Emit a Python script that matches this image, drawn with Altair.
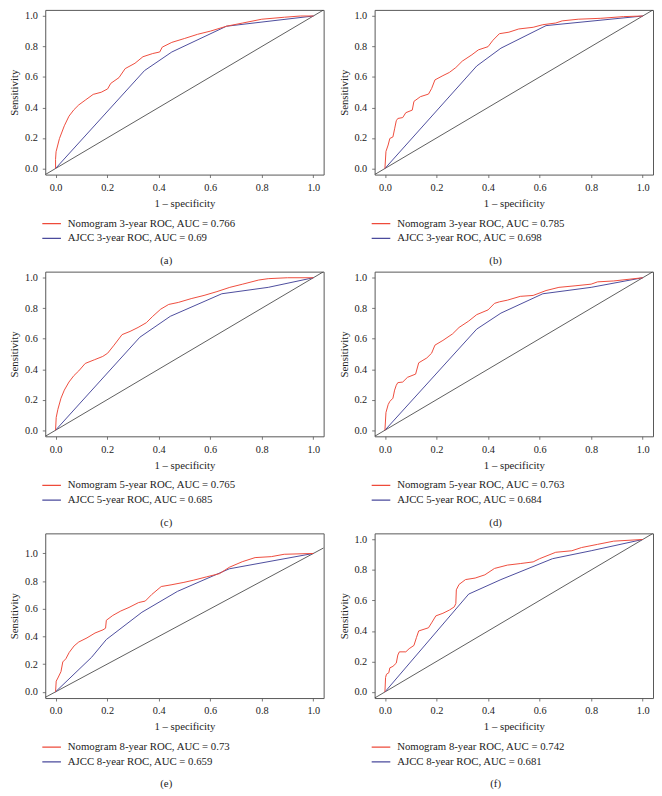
import altair as alt
import pandas as pd

# ---------------- data ----------------
tick_values = [0.0, 0.2, 0.4, 0.6, 0.8, 1.0]
diag_vals = [-0.04, 1.04]

nom_a_x = [0, 0.0, 0.002, 0.015, 0.034, 0.052, 0.071, 0.09, 0.115, 0.146, 0.177, 0.202, 0.214, 0.246, 0.27,
           0.308, 0.339, 0.377, 0.404, 0.414, 0.451, 0.501, 0.551, 0.601, 0.663, 0.726, 0.80, 0.888, 0.95, 1.0]
nom_a_y = [0, 0.06, 0.11, 0.196, 0.28, 0.343, 0.385, 0.417, 0.448, 0.486, 0.50, 0.522, 0.558, 0.596, 0.655,
           0.69, 0.733, 0.754, 0.764, 0.796, 0.827, 0.853, 0.88, 0.901, 0.933, 0.954, 0.979, 0.992, 1.0, 1.0]
ajcc_a_x = [0, 0.345, 0.451, 0.663, 1.0]
ajcc_a_y = [0, 0.642, 0.764, 0.933, 1.0]

nom_b_x = [0, 0.004, 0.0125, 0.019, 0.031, 0.0375, 0.044, 0.05, 0.069, 0.081, 0.106, 0.1125, 0.1375, 0.169,
           0.181, 0.194, 0.225, 0.25, 0.275, 0.30, 0.3375, 0.3625, 0.40, 0.419, 0.444, 0.481, 0.519, 0.575,
           0.6125, 0.6625, 0.6875, 0.75, 0.8375, 0.925, 1.0]
nom_b_y = [0, 0.112, 0.154, 0.197, 0.207, 0.26, 0.313, 0.328, 0.334, 0.366, 0.383, 0.44, 0.471, 0.488,
           0.524, 0.581, 0.609, 0.63, 0.662, 0.704, 0.746, 0.778, 0.799, 0.841, 0.884, 0.894, 0.915, 0.926,
           0.943, 0.954, 0.968, 0.979, 0.985, 0.996, 1.0]
ajcc_b_x = [0, 0.356, 0.45, 0.625, 1.0]
ajcc_b_y = [0, 0.672, 0.789, 0.937, 1.0]

nom_c_x = [0, 0.0025, 0.009, 0.021, 0.034, 0.052, 0.071, 0.09, 0.115, 0.152, 0.183, 0.202, 0.227, 0.258,
           0.289, 0.32, 0.352, 0.377, 0.408, 0.439, 0.476, 0.526, 0.576, 0.626, 0.676, 0.726, 0.788, 0.825,
           0.90, 1.0]
nom_c_y = [0, 0.084, 0.137, 0.21, 0.263, 0.316, 0.358, 0.389, 0.438, 0.463, 0.484, 0.505, 0.558, 0.627,
           0.648, 0.674, 0.705, 0.747, 0.794, 0.825, 0.838, 0.863, 0.884, 0.909, 0.937, 0.958, 0.985, 0.994,
           1.0, 1.0]
ajcc_c_x = [0, 0.327, 0.445, 0.645, 0.825, 1.0]
ajcc_c_y = [0, 0.61, 0.747, 0.895, 0.937, 1.0]

nom_d_x = [0, 0.004, 0.0125, 0.019, 0.031, 0.0375, 0.044, 0.05, 0.069, 0.0875, 0.119, 0.131, 0.1625, 0.181,
           0.194, 0.225, 0.2625, 0.2875, 0.325, 0.356, 0.40, 0.425, 0.444, 0.475, 0.525, 0.575, 0.625, 0.675,
           0.7375, 0.80, 0.825, 0.8875, 1.0]
nom_d_y = [0, 0.116, 0.168, 0.189, 0.21, 0.263, 0.295, 0.312, 0.316, 0.347, 0.368, 0.442, 0.474, 0.505,
           0.558, 0.589, 0.632, 0.674, 0.716, 0.758, 0.789, 0.832, 0.842, 0.853, 0.878, 0.884, 0.916, 0.937,
           0.947, 0.958, 0.973, 0.979, 1.0]
ajcc_d_x = [0, 0.356, 0.45, 0.6125, 0.80, 1.0]
ajcc_d_y = [0, 0.663, 0.768, 0.895, 0.937, 1.0]

nom_e_x = [0, 0.0025, 0.009, 0.021, 0.028, 0.04, 0.053, 0.072, 0.09, 0.122, 0.153, 0.184, 0.194, 0.197,
           0.222, 0.253, 0.285, 0.322, 0.348, 0.373, 0.41, 0.448, 0.498, 0.536, 0.586, 0.636, 0.674, 0.724,
           0.774, 0.837, 0.887, 1.0]
nom_e_y = [0, 0.077, 0.10, 0.146, 0.216, 0.239, 0.285, 0.332, 0.36, 0.39, 0.425, 0.448, 0.46, 0.517,
           0.552, 0.584, 0.61, 0.645, 0.656, 0.703, 0.761, 0.773, 0.791, 0.807, 0.831, 0.854, 0.9, 0.94,
           0.97, 0.977, 0.994, 1.0]
ajcc_e_x = [0, 0.14, 0.197, 0.335, 0.473, 0.674, 1.0]
ajcc_e_y = [0, 0.25, 0.378, 0.575, 0.726, 0.889, 1.0]

nom_f_x = [0, 0.0025, 0.006, 0.015, 0.019, 0.031, 0.044, 0.05, 0.056, 0.081, 0.094, 0.1125, 0.1225, 0.131,
           0.169, 0.181, 0.1975, 0.225, 0.25, 0.269, 0.275, 0.277, 0.2875, 0.3125, 0.35, 0.3875, 0.425, 0.475,
           0.525, 0.575, 0.6, 0.6625, 0.725, 0.7625, 0.825, 0.8875, 1.0]
nom_f_y = [0, 0.095, 0.116, 0.126, 0.158, 0.168, 0.189, 0.242, 0.263, 0.263, 0.284, 0.305, 0.358, 0.40,
           0.421, 0.453, 0.499, 0.516, 0.537, 0.558, 0.58, 0.67, 0.705, 0.737, 0.747, 0.768, 0.81, 0.832,
           0.842, 0.853, 0.874, 0.916, 0.926, 0.947, 0.968, 0.989, 1.0]
ajcc_f_x = [0, 0.325, 0.45, 0.65, 0.80, 1.0]
ajcc_f_y = [0, 0.642, 0.737, 0.874, 0.926, 1.0]

nom_labels = ["Nomogram 3-year ROC, AUC = 0.766", "Nomogram 3-year ROC, AUC = 0.785",
              "Nomogram 5-year ROC, AUC = 0.765", "Nomogram 5-year ROC, AUC = 0.763",
              "Nomogram 8-year ROC, AUC = 0.73", "Nomogram 8-year ROC, AUC = 0.742"]
ajcc_labels = ["AJCC 3-year ROC, AUC = 0.69", "AJCC 3-year ROC, AUC = 0.698",
               "AJCC 5-year ROC, AUC = 0.685", "AJCC 5-year ROC, AUC = 0.684",
               "AJCC 8-year ROC, AUC = 0.659", "AJCC 8-year ROC, AUC = 0.681"]
captions = ["(a)", "(b)", "(c)", "(d)", "(e)", "(f)"]
y_domains = [[-0.04, 1.04]] * 4 + [[-0.045, 1.145], [-0.04, 1.04]]
x_domain = [-0.04, 1.04]

# ---------------- styling ----------------
RED = "#ee4a3a"
BLUE = "#4a4a9c"
SERIF = "Liberation Serif"
TEXT = "#222222"
W, H = 284, 168


def panel(nx, ny, ax, ay, nlab, alab, cap, ydom):
    df_n = pd.DataFrame({"x": nx, "y": ny, "series": nlab, "i": list(range(len(nx)))})
    df_a = pd.DataFrame({"x": ax, "y": ay, "series": alab, "i": list(range(len(ax)))})
    df_d = pd.DataFrame({"x": diag_vals, "y": diag_vals})

    xenc = alt.X("x:Q", scale=alt.Scale(domain=x_domain, nice=False, zero=False),
                 axis=alt.Axis(values=tick_values, format=".1f", title="1 \u2013 specificity",
                               labelFlush=False))
    yenc = alt.Y("y:Q", scale=alt.Scale(domain=ydom, nice=False, zero=False),
                 axis=alt.Axis(values=tick_values, format=".1f", title="Sensitivity",
                               labelFlush=False))
    color = alt.Color(
        "series:N",
        scale=alt.Scale(domain=[nlab, alab], range=[RED, BLUE]),
        legend=alt.Legend(title=None, orient="none", legendX=-4, legendY=H + 43, direction="vertical",
                          symbolType="stroke", symbolSize=361, symbolStrokeWidth=1.3,
                          labelFont=SERIF, labelFontSize=11, labelColor=TEXT, labelLimit=400,
                          clipHeight=14, rowPadding=1, labelOffset=6, padding=0),
    )

    diag = alt.Chart(df_d).mark_line(color="#333333", strokeWidth=0.8, clip=True).encode(x=xenc, y=yenc)
    ajcc = alt.Chart(df_a).mark_line(strokeWidth=1.0, clip=True).encode(
        x=xenc, y=yenc, color=color, order="i:Q")
    nom = alt.Chart(df_n).mark_line(strokeWidth=1.0, clip=True).encode(
        x=xenc, y=yenc, color=color, order="i:Q")
    return alt.layer(diag, ajcc, nom).properties(
        width=W, height=H,
        title=alt.Title(cap, orient="bottom", anchor="middle", frame="bounds", offset=10,
                        font=SERIF, fontSize=11, fontWeight="normal", color=TEXT),
    )


series = [
    (nom_a_x, nom_a_y, ajcc_a_x, ajcc_a_y),
    (nom_b_x, nom_b_y, ajcc_b_x, ajcc_b_y),
    (nom_c_x, nom_c_y, ajcc_c_x, ajcc_c_y),
    (nom_d_x, nom_d_y, ajcc_d_x, ajcc_d_y),
    (nom_e_x, nom_e_y, ajcc_e_x, ajcc_e_y),
    (nom_f_x, nom_f_y, ajcc_f_x, ajcc_f_y),
]
panels = [panel(*s, nom_labels[k], ajcc_labels[k], captions[k], y_domains[k]) for k, s in enumerate(series)]

chart = alt.concat(*panels, columns=2, spacing={"row": 99, "column": 52}, bounds="flush").resolve_scale(
    color="independent"
).properties(padding={"top": -7, "left": 0, "right": 0, "bottom": 0}).configure_view(
    stroke="#555555", strokeWidth=1
).configure_axis(
    grid=False, domain=False, tickSize=3, tickColor="#555555", tickWidth=0.8,
    labelFont=SERIF, labelFontSize=10.5, labelColor=TEXT, labelPadding=5,
    titleFont=SERIF, titleFontSize=11, titleFontWeight="normal", titleColor=TEXT, titlePadding=5,
)

chart.save("out.html", embed_options={"renderer": "svg", "actions": False})
